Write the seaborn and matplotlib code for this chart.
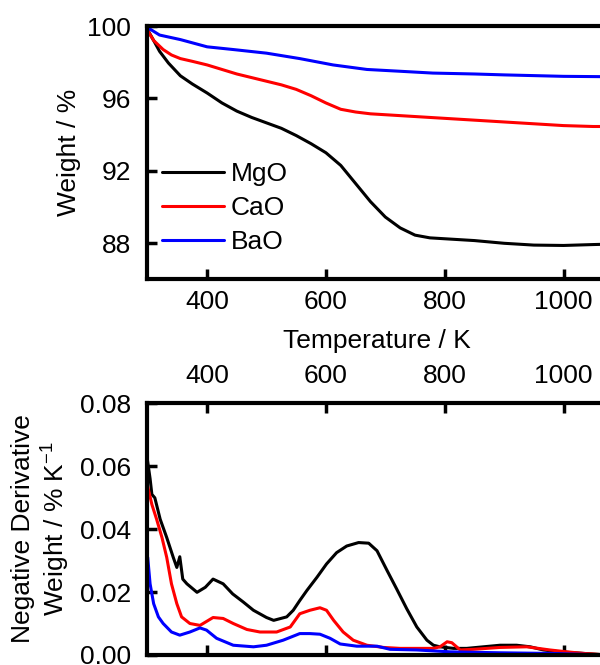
import matplotlib
matplotlib.use("Agg")
import matplotlib.pyplot as plt
import seaborn as sns
import pandas as pd
from matplotlib.ticker import FormatStrFormatter

# ---- thermogravimetric weight curves (Weight / %) ----
t_mgo = [298, 310, 320, 335, 355, 375, 400, 425, 450, 475, 500, 525, 550, 575, 600,
         625, 650, 675, 700, 725, 750, 775, 800, 850, 900, 950, 1000, 1050, 1074]
w_mgo = [99.9, 99.2, 98.6, 97.95, 97.25, 96.8, 96.3, 95.75, 95.3, 94.95, 94.65, 94.35, 93.95, 93.5, 93.0,
         92.3, 91.3, 90.3, 89.45, 88.85, 88.45, 88.3, 88.25, 88.15, 88.0, 87.9, 87.88, 87.93, 87.95]

t_cao = [298, 310, 326, 340, 355, 375, 400, 425, 450, 475, 500, 525, 550, 575, 600,
         625, 650, 675, 700, 750, 800, 850, 900, 950, 1000, 1050, 1074]
w_cao = [99.85, 99.2, 98.7, 98.4, 98.2, 98.05, 97.85, 97.6, 97.35, 97.15, 96.95, 96.75, 96.5, 96.15, 95.75,
         95.4, 95.25, 95.15, 95.1, 95.0, 94.9, 94.8, 94.7, 94.6, 94.5, 94.45, 94.45]

t_bao = [298, 320, 355, 400, 444, 500, 556, 612, 669, 725, 780, 850, 900, 1000, 1074]
w_bao = [99.95, 99.5, 99.25, 98.85, 98.7, 98.5, 98.2, 97.85, 97.6, 97.5, 97.4, 97.35, 97.3, 97.22, 97.2]

# ---- negative derivative weight curves (% / K) ----
td_mgo = [298, 304, 307, 312, 321, 332, 343, 349, 354, 359, 366, 383, 397, 410, 427, 443, 461, 478,
          500, 512, 534, 545, 556, 568, 585, 601, 618, 635, 655, 672, 686, 703, 719, 736, 753, 770,
          781, 792, 815, 837, 865, 893, 921, 944, 966, 994, 1034, 1074]
d_mgo = [0.064, 0.056, 0.051, 0.0499, 0.0431, 0.0373, 0.031, 0.0278, 0.0312, 0.0241, 0.0226, 0.0199,
         0.0215, 0.0241, 0.0226, 0.0194, 0.0168, 0.0142, 0.0119, 0.011, 0.0121, 0.0142, 0.0173, 0.0205,
         0.0247, 0.0289, 0.0325, 0.0346, 0.0357, 0.0355, 0.0331, 0.0268, 0.021, 0.0147, 0.0089, 0.0047,
         0.0031, 0.0026, 0.0021, 0.0021, 0.0026, 0.0031, 0.0031, 0.0026, 0.0016, 0.001, 0.0005, 0.0]

td_cao = [300, 307, 315, 324, 332, 340, 349, 357, 371, 388, 410, 427, 444, 467, 489, 517, 540, 556,
          573, 590, 601, 613, 629, 646, 669, 697, 725, 781, 792, 804, 812, 826, 848, 893, 938, 977,
          1006, 1034, 1074]
d_cao = [0.0535, 0.0478, 0.0431, 0.0373, 0.031, 0.0226, 0.0163, 0.0121, 0.01, 0.0094, 0.0119, 0.0116,
         0.01, 0.0081, 0.0073, 0.0073, 0.0089, 0.0131, 0.0142, 0.015, 0.0142, 0.011, 0.0073, 0.0047,
         0.0031, 0.0024, 0.0021, 0.0021, 0.0026, 0.0042, 0.0039, 0.0016, 0.0018, 0.0024, 0.0026, 0.0016,
         0.001, 0.0005, 0.0]

td_bao = [300, 304, 310, 318, 326, 340, 354, 371, 388, 399, 416, 444, 478, 500, 528, 556, 573, 590,
          607, 624, 652, 686, 708, 753, 809, 893, 977, 1074]
d_bao = [0.031, 0.0226, 0.0163, 0.0121, 0.01, 0.0073, 0.0063, 0.0073, 0.0086, 0.0079, 0.0053, 0.0031,
         0.0026, 0.0031, 0.0047, 0.0068, 0.0068, 0.0066, 0.0053, 0.0035, 0.0028, 0.0028, 0.0018, 0.0016,
         0.001, 0.0007, 0.0005, 0.0]

oxides = ["MgO", "CaO", "BaO"]
colors = {"MgO": "#000000", "CaO": "#FF0000", "BaO": "#0000FF"}

tga = pd.concat([
    pd.DataFrame({"T": t_mgo, "val": w_mgo, "oxide": "MgO"}),
    pd.DataFrame({"T": t_cao, "val": w_cao, "oxide": "CaO"}),
    pd.DataFrame({"T": t_bao, "val": w_bao, "oxide": "BaO"}),
], ignore_index=True)
dtg = pd.concat([
    pd.DataFrame({"T": td_mgo, "val": d_mgo, "oxide": "MgO"}),
    pd.DataFrame({"T": td_cao, "val": d_cao, "oxide": "CaO"}),
    pd.DataFrame({"T": td_bao, "val": d_bao, "oxide": "BaO"}),
], ignore_index=True)

sns.set_theme(style="white")
plt.rcParams["font.family"] = ["Liberation Sans", "DejaVu Sans"]
plt.rcParams["mathtext.fontset"] = "custom"
plt.rcParams["mathtext.rm"] = "Liberation Sans"
plt.rcParams["mathtext.default"] = "regular"
plt.rcParams["text.color"] = "black"
plt.rcParams["axes.labelcolor"] = "black"
plt.rcParams["xtick.color"] = "black"
plt.rcParams["ytick.color"] = "black"

FS = 19
fig = plt.figure(figsize=(6.0, 6.65), dpi=100)
ax1 = fig.add_axes([0.2442, 0.5797, 0.7683, 0.3812])
ax2 = fig.add_axes([0.2442, 0.01504, 0.7683, 0.3789])

sns.lineplot(data=tga, x="T", y="val", hue="oxide", hue_order=oxides, palette=colors,
             linewidth=2.2, errorbar=None, ax=ax1)
sns.lineplot(data=dtg, x="T", y="val", hue="oxide", hue_order=oxides, palette=colors,
             linewidth=2.2, errorbar=None, ax=ax2, legend=False)

for ax in (ax1, ax2):
    ax.set_xlim(298, 1074)
    ax.set_xticks([400, 600, 800, 1000])
    for s in ax.spines.values():
        s.set_linewidth(3)
        s.set_color("black")
    ax.tick_params(axis="both", direction="in", length=7.5, width=2.5, color="black",
                   labelsize=FS, labelcolor="black")
    ax.tick_params(axis="y", pad=11)
    ax.set_ylabel("")
    ax.set_xlabel("")

ax1.set_ylim(86, 100)
ax1.set_yticks([88, 92, 96, 100])
ax1.tick_params(axis="x", bottom=True, top=False, pad=7.5)
ax1.tick_params(axis="y", left=True, right=False)
ax1.set_xlabel("Temperature / K", fontsize=FS, labelpad=11)
ax1.set_ylabel("Weight / %", fontsize=FS)
ax1.yaxis.set_label_coords(-0.142, 0.5)

ax2.set_ylim(0, 0.08)
ax2.set_yticks([0.0, 0.02, 0.04, 0.06, 0.08])
ax2.yaxis.set_major_formatter(FormatStrFormatter("%.2f"))
ax2.tick_params(axis="x", bottom=True, top=True, labelbottom=False, labeltop=True, pad=11)
ax2.tick_params(axis="y", left=True, right=False)
ax2.set_ylabel("Negative Derivative\nWeight / % K$^{-1}$", fontsize=FS, linespacing=1.2)
ax2.yaxis.set_label_coords(-0.161, 0.5)

leg = ax1.legend(loc="center left", bbox_to_anchor=(0.0336, 0.282), frameon=False,
                 fontsize=FS, handlelength=2.35, handletextpad=0.25, labelspacing=0.38,
                 borderpad=0, borderaxespad=0)
for line in leg.get_lines():
    line.set_linewidth(2.2)

fig.savefig("out.png", dpi=100)
